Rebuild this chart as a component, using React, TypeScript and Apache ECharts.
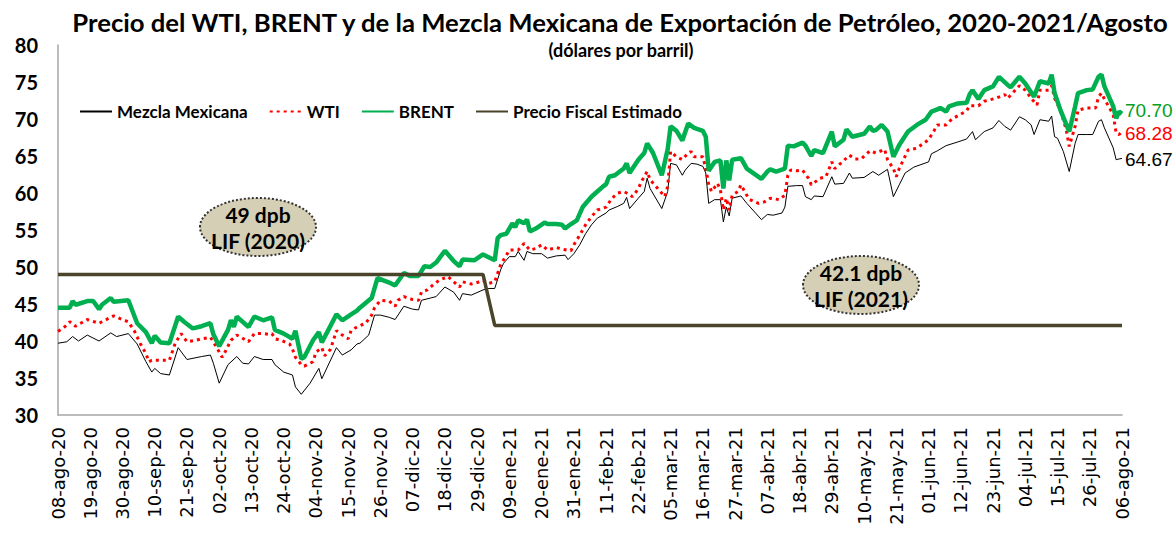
import React, { useEffect, useRef } from "react";
import * as echarts from "echarts";

const tickLabels = ["08-ago-20","19-ago-20","30-ago-20","10-sep-20","21-sep-20","02-oct-20","13-oct-20","24-oct-20","04-nov-20","15-nov-20","26-nov-20","07-dic-20","18-dic-20","29-dic-20","09-ene-21","20-ene-21","31-ene-21","11-feb-21","22-feb-21","05-mar-21","16-mar-21","27-mar-21","07-abr-21","18-abr-21","29-abr-21","10-may-21","21-may-21","01-jun-21","12-jun-21","23-jun-21","04-jul-21","15-jul-21","26-jul-21","06-ago-21"];

const seriesNames = ["Mezcla Mexicana", "WTI", "BRENT", "Precio Fiscal Estimado"];

// [day offset from 08-ago-20, US$ per barrel]
const mezcla: [number, number][] = [[0,39.7],[3,39.9],[5,40.6],[7,40.0],[10,40.8],[14,40.0],[18,41.1],[20,40.6],[24,41.0],[27,39.6],[30,37.2],[32,35.8],[33,36.3],[35,35.6],[38,35.4],[41,39.1],[44,37.5],[49,37.9],[52,38.1],[53,37.0],[55,34.3],[58,36.8],[61,37.9],[63,37.0],[65,36.9],[67,37.9],[70,37.5],[73,37.5],[74,36.8],[77,35.8],[80,35.4],[81,33.8],[83,32.8],[86,34.3],[89,36.3],[90,34.9],[95,39.1],[97,38.1],[100,38.8],[102,39.6],[103,39.7],[106,40.8],[108,43.5],[110,43.5],[113,43.2],[115,42.9],[118,44.7],[121,44.3],[123,44.2],[124,45.5],[127,45.8],[129,46.0],[132,47.3],[135,46.6],[137,45.5],[138,46.4],[141,46.2],[145,46.9],[147,47.1],[149,47.1],[151,49.6],[152,50.5],[154,51.4],[156,51.4],[157,52.1],[159,50.9],[160,52.1],[162,51.8],[165,51.8],[167,51.2],[170,51.5],[173,51.6],[174,51.0],[176,51.8],[178,53.0],[180,54.5],[182,55.7],[184,56.6],[187,57.3],[188,57.7],[191,58.2],[193,58.6],[194,59.4],[195,57.9],[198,59.3],[200,60.2],[201,62.0],[202,60.6],[206,57.9],[208,60.2],[209,64.0],[211,63.8],[213,62.4],[214,63.1],[216,64.0],[218,63.9],[220,63.6],[221,62.7],[222,58.6],[224,59.1],[226,59.1],[227,56.1],[228,58.1],[229,56.9],[230,59.3],[233,59.6],[235,58.6],[240,56.4],[242,57.1],[244,57.0],[247,57.3],[248,58.1],[249,60.9],[252,61.0],[254,61.0],[255,59.5],[257,59.1],[258,59.6],[261,59.5],[264,62.2],[265,61.2],[268,61.3],[270,62.7],[271,62.0],[275,62.1],[278,62.9],[280,62.4],[283,63.2],[285,59.5],[287,61.1],[289,62.7],[292,63.5],[297,64.2],[298,65.3],[300,65.7],[303,66.4],[307,66.9],[310,67.3],[312,68.3],[313,67.2],[316,68.3],[319,68.8],[321,69.8],[323,69.0],[325,68.5],[328,70.3],[330,69.9],[332,69.2],[333,67.9],[335,69.9],[338,69.7],[339,70.4],[340,67.6],[341,67.4],[343,65.6],[345,62.9],[347,66.7],[348,67.9],[351,67.9],[353,67.9],[355,69.7],[356,69.9],[357,68.8],[360,66.1],[361,64.5],[362,64.6],[363,64.67]];

const wti: [number, number][] = [[0,41.3],[2,41.8],[4,42.6],[6,42.0],[10,42.9],[14,42.4],[15,42.6],[19,43.4],[22,42.9],[24,42.6],[26,41.4],[28,39.7],[30,38.3],[31,37.2],[32,37.4],[38,37.4],[40,39.7],[42,41.0],[44,39.9],[47,40.1],[49,40.3],[52,40.5],[53,39.9],[55,38.5],[56,37.8],[57,38.5],[59,40.1],[61,40.8],[62,40.6],[65,39.9],[67,41.0],[70,41.0],[72,40.9],[73,41.0],[74,40.3],[76,40.1],[79,39.6],[80,38.9],[81,37.8],[83,36.8],[84,36.6],[87,37.2],[88,38.5],[90,39.1],[91,38.0],[93,38.9],[95,41.4],[97,40.8],[99,40.3],[100,41.4],[102,41.9],[105,42.4],[107,43.5],[108,44.5],[110,45.5],[113,45.4],[115,44.7],[116,45.5],[118,46.0],[121,45.6],[123,45.5],[124,46.6],[126,46.9],[128,47.6],[130,48.2],[133,48.7],[135,48.0],[137,47.3],[138,48.0],[141,47.7],[143,47.9],[145,48.2],[147,47.8],[149,48.0],[151,50.3],[153,51.6],[154,52.3],[157,52.3],[158,52.7],[159,53.2],[161,52.3],[163,52.5],[165,53.0],[167,52.3],[170,52.65],[172,52.4],[175,52.2],[176,53.0],[178,54.3],[180,55.7],[182,56.8],[184,57.7],[187,58.1],[189,59.3],[191,60.0],[193,60.2],[194,60.0],[196,59.5],[198,60.6],[199,61.5],[201,62.9],[202,61.8],[204,60.9],[207,59.5],[208,60.9],[209,65.6],[211,64.9],[213,64.5],[215,65.4],[216,65.6],[217,64.9],[220,64.9],[221,63.3],[222,61.1],[223,60.2],[225,61.3],[226,60.4],[227,57.7],[228,59.3],[229,57.7],[230,59.7],[232,60.2],[233,61.1],[235,59.7],[236,59.1],[239,58.6],[241,58.8],[243,59.3],[246,59.1],[248,59.7],[249,62.4],[250,63.1],[252,63.0],[254,63.1],[256,62.0],[257,61.1],[260,62.0],[262,62.2],[264,64.2],[265,63.3],[267,64.0],[270,65.1],[272,64.6],[274,64.6],[277,65.7],[279,65.4],[282,65.9],[283,64.5],[285,63.3],[286,62.2],[287,63.3],[290,65.8],[293,66.05],[297,67.2],[299,68.5],[300,69.2],[303,69.2],[305,70.0],[310,71.1],[311,71.8],[314,71.8],[316,72.4],[320,72.8],[323,73.3],[324,72.8],[328,74.5],[330,73.9],[332,72.8],[334,71.9],[335,73.9],[338,73.9],[339,74.5],[340,72.8],[342,71.2],[344,68.5],[345,66.3],[347,69.0],[348,71.2],[351,71.5],[354,71.5],[355,73.0],[356,73.5],[357,72.7],[360,70.6],[361,68.1],[362,67.9],[363,68.28]];

const brent: [number, number][] = [[0,44.5],[4,44.5],[5,45.4],[6,44.9],[10,45.4],[12,45.4],[14,44.3],[15,44.9],[18,45.8],[19,45.3],[24,45.5],[27,42.4],[30,41.2],[32,39.7],[33,40.7],[35,39.8],[38,39.7],[41,43.3],[43,42.6],[46,41.7],[49,42.0],[52,42.4],[53,40.9],[55,39.3],[58,41.5],[59,42.8],[60,41.9],[61,43.3],[65,41.9],[67,43.3],[70,42.8],[73,43.2],[74,41.5],[77,41.0],[80,40.3],[81,41.4],[83,37.6],[84,37.8],[87,40.1],[89,41.2],[90,39.8],[95,43.6],[97,42.8],[100,43.6],[102,44.1],[103,44.5],[107,45.8],[109,48.5],[113,47.9],[115,47.5],[118,49.2],[120,48.8],[123,48.8],[125,50.1],[127,50.0],[129,50.6],[132,52.2],[135,50.8],[137,50.1],[138,51.0],[142,50.9],[145,51.7],[149,50.9],[150,53.9],[151,54.3],[153,54.5],[155,55.9],[156,55.4],[157,56.3],[159,55.9],[160,56.4],[161,54.8],[163,55.2],[166,56.0],[167,55.8],[170,55.8],[172,55.7],[173,55.2],[175,55.8],[177,56.3],[179,58.1],[182,59.5],[184,60.2],[186,60.9],[187,61.2],[188,62.2],[190,62.4],[193,63.3],[194,64.0],[195,62.7],[198,64.5],[200,65.4],[201,66.7],[203,65.4],[206,62.4],[208,65.9],[209,69.0],[211,68.4],[213,67.1],[215,69.4],[217,68.8],[220,68.4],[221,67.6],[222,63.0],[224,64.2],[226,64.4],[227,60.6],[228,64.4],[229,61.7],[230,64.5],[233,64.7],[235,63.3],[240,61.9],[242,62.9],[243,63.2],[245,62.9],[248,63.3],[249,66.4],[251,66.3],[254,66.8],[255,66.4],[257,65.0],[258,65.8],[261,65.4],[264,68.3],[265,66.3],[268,67.2],[269,68.6],[271,67.6],[275,68.0],[277,69.0],[278,68.4],[279,68.5],[281,69.2],[283,68.3],[285,64.9],[287,66.5],[290,68.3],[293,69.2],[296,69.9],[298,71.0],[300,71.3],[301,71.5],[303,71.0],[304,71.7],[307,72.1],[310,72.2],[311,73.3],[312,73.9],[314,72.7],[316,73.9],[319,74.4],[321,75.7],[324,74.6],[325,74.3],[328,75.7],[330,74.8],[333,73.0],[335,75.1],[338,74.8],[339,76.0],[340,73.5],[342,71.2],[345,68.3],[347,71.7],[348,73.5],[351,73.9],[353,74.0],[355,75.7],[356,76.0],[357,74.4],[360,71.7],[361,70.1],[362,71.0],[363,70.70]];

const precioFiscal: [number, number][] = [[0,49],[145,49],[149,42.1],[363,42.1]];

const annotations = [
  { line1: "49 dpb", line2: "LIF (2020)" },
  { line1: "42.1 dpb", line2: "LIF (2021)" },
];

export default function App() {
  const ref = useRef<HTMLDivElement>(null);
  useEffect(() => {
    const chart = echarts.init(ref.current!, null, { renderer: "svg" });
    const boldFont = "Lato";
    const ellipseStyle = { fill: "#D4CFB5", stroke: "#333333", lineWidth: 2, lineDash: [2, 2] };
    const annText = (x: number, y: number, text: string) => ({
      type: "text", x, y, z: 101,
      style: { text, align: "center", verticalAlign: "middle", fill: "#000", font: `bold 21px ${boldFont}` },
    });
    const endLbl = (color: string, dy: number) => ({
      show: true,
      formatter: (p: any) => Number(p.value[1]).toFixed(2),
      color, fontSize: 19, fontFamily: "Liberation Sans", distance: 3, offset: [0, dy],
    });
    chart.setOption({
      animation: false,
      backgroundColor: "#ffffff",
      grid: { left: 58, right: 54, top: 45, bottom: 118, containLabel: false },
      legend: {
        left: 74, top: 98, itemWidth: 32, itemHeight: 14, itemGap: 21, selectedMode: false,
        data: seriesNames,
        itemStyle: { opacity: 0 },
        textStyle: { fontFamily: boldFont, fontWeight: "bold", fontSize: 17, color: "#000" },
      },
      xAxis: {
        type: "value", min: 0, max: 363, interval: 11,
        axisLine: { show: true, lineStyle: { color: "#A6A6A6", width: 1.5 } },
        axisTick: { show: false },
        splitLine: { show: false },
        axisLabel: {
          rotate: 90, margin: 12, color: "#000", fontFamily: "DejaVu Sans", fontSize: 18,
          showMinLabel: true, showMaxLabel: true,
          formatter: (v: number) => tickLabels[Math.round(v / 11)] ?? "",
        },
      },
      yAxis: {
        type: "value", min: 30, max: 80, interval: 5,
        axisLine: { show: true, lineStyle: { color: "#A6A6A6", width: 1.5 } },
        axisTick: { show: false },
        splitLine: { show: false },
        axisLabel: { color: "#000", fontFamily: boldFont, fontWeight: "bold", fontSize: 20, margin: 20 },
      },
      graphic: [
        { type: "text", x: 620, y: 22, scaleX: 1.07, style: { text: "Precio del WTI, BRENT y de la Mezcla Mexicana de Exportación de Petróleo, 2020-2021/Agosto", align: "center", verticalAlign: "middle", fill: "#000", font: `bold 24px ${boldFont}` } },
        { type: "text", x: 621, y: 50, style: { text: "(dólares por barril)", align: "center", verticalAlign: "middle", fill: "#000", font: `bold 18px ${boldFont}` } },
        { type: "ellipse", z: 100, shape: { cx: 258, cy: 227, rx: 58, ry: 29 }, style: ellipseStyle },
        annText(258, 214, annotations[0].line1),
        annText(258, 240, annotations[0].line2),
        { type: "ellipse", z: 100, shape: { cx: 861, cy: 285, rx: 58, ry: 29 }, style: ellipseStyle },
        annText(861, 272, annotations[1].line1),
        annText(861, 298, annotations[1].line2),
      ],
      series: [
        {
          name: seriesNames[0], type: "line", data: mezcla, symbol: "none",
          lineStyle: { color: "#000000", width: 1 }, itemStyle: { color: "#000000" },
          endLabel: endLbl("#000000", 1),
        },
        {
          name: seriesNames[1], type: "line", data: wti, symbol: "none",
          lineStyle: { color: "#FF0000", width: 3, type: [3, 4] }, itemStyle: { color: "#FF0000" },
          endLabel: endLbl("#FF0000", 2),
        },
        {
          name: seriesNames[2], type: "line", data: brent, symbol: "none",
          lineStyle: { color: "#00B050", width: 4.5 }, itemStyle: { color: "#00B050" },
          endLabel: endLbl("#00A020", -3),
        },
        {
          name: seriesNames[3], type: "line", data: precioFiscal, symbol: "none",
          lineStyle: { color: "#4A452A", width: 3.5 }, itemStyle: { color: "#4A452A" },
        },
      ],
    });
    return () => chart.dispose();
  }, []);
  return <div ref={ref} style={{ position: "fixed", left: 0, top: 0, width: 1176, height: 533, background: "#fff" }} />;
}
